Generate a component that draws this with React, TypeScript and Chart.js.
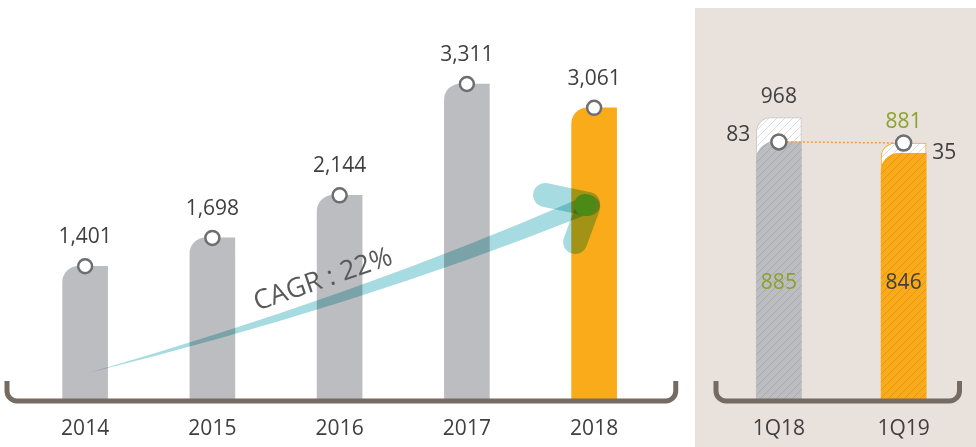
import React, { useEffect, useRef } from "react";
import { Chart, registerables } from "chart.js";

Chart.register(...registerables);

// ---------- data ----------
const years = ["2014", "2015", "2016", "2017", "2018"];
const annualValues = [1401, 1698, 2144, 3311, 3061];
const cagrLabel = "CAGR : 22%";

const quarters = ["1Q18", "1Q19"];
const quarterBase = [885, 846];
const quarterExtra = [83, 35];
const quarterComparable = [885, 881];

// ---------- styles ----------
const FONT = "'Open Sans', 'Noto Sans CJK SC', sans-serif";
const GRAY = "#bcbdc0";
const ORANGE = "#f9ab1a";
const TEXT = "#3f3f3f";
const OLIVE = "#8ca12e";
const MARKER = "#6d6e71";
const BRACKET = "#766b62";
const PANEL = "#e8e1dc";
const TEAL = "#a6dbe1";
const DOT = "#f39c4a";

const fmt = (v: number) => v.toLocaleString("en-US");

function hatch(bg: string, line: string, size = 8): any {
  const c = document.createElement("canvas");
  c.width = size;
  c.height = size;
  const ctx = c.getContext("2d")!;
  ctx.fillStyle = bg;
  ctx.fillRect(0, 0, size, size);
  ctx.strokeStyle = line;
  ctx.lineWidth = 1;
  ctx.beginPath();
  ctx.moveTo(0, size);
  ctx.lineTo(size, 0);
  ctx.moveTo(-2, 2);
  ctx.lineTo(2, -2);
  ctx.moveTo(size - 2, size + 2);
  ctx.lineTo(size + 2, size - 2);
  ctx.stroke();
  return ctx.createPattern(c, "repeat");
}

function drawBracket(chart: any, leftOff: number, rightOff: number) {
  const { ctx, chartArea } = chart;
  const L = chartArea.left + leftOff;
  const R = chartArea.right + rightOff;
  const y = chartArea.bottom + 1;
  const h = 20;
  const r = 10;
  ctx.save();
  ctx.strokeStyle = BRACKET;
  ctx.lineWidth = 5;
  ctx.beginPath();
  ctx.moveTo(L, y - h);
  ctx.arcTo(L, y, L + r, y, r);
  ctx.arcTo(R, y, R, y - h, r);
  ctx.lineTo(R, y - h);
  ctx.stroke();
  ctx.restore();
}

const annualPlugin = {
  id: "annualDecor",
  afterDatasetsDraw(chart: any) {
    const { ctx } = chart;
    const xs = chart.scales.x;
    const ys = chart.scales.y;
    const x0 = xs.getPixelForValue(0);
    const step = xs.getPixelForValue(1) - x0;
    const P = (ix: number, v: number): [number, number] => [x0 + ix * step, ys.getPixelForValue(v)];

    // CAGR arrow
    ctx.save();
    ctx.globalCompositeOperation = "multiply";
    ctx.fillStyle = TEAL;
    const s = P(0.024, 283);
    const uc = P(2.145, 1100);
    const ue = P(3.874, 2106);
    const le = P(3.914, 1928);
    const lc = P(2.122, 974);
    ctx.beginPath();
    ctx.moveTo(s[0], s[1]);
    ctx.quadraticCurveTo(uc[0], uc[1], ue[0], ue[1]);
    ctx.lineTo(le[0], le[1]);
    ctx.quadraticCurveTo(lc[0], lc[1], s[0], s[1]);
    ctx.closePath();
    ctx.fill();
    ctx.strokeStyle = TEAL;
    ctx.lineWidth = 24;
    ctx.lineCap = "round";
    let a = P(3.615, 2148);
    let b = P(3.953, 2054);
    ctx.beginPath();
    ctx.moveTo(a[0], a[1]);
    ctx.lineTo(b[0], b[1]);
    ctx.stroke();
    a = P(3.953, 2022);
    b = P(3.851, 1655);
    ctx.beginPath();
    ctx.moveTo(a[0], a[1]);
    ctx.lineTo(b[0], b[1]);
    ctx.stroke();
    ctx.restore();

    ctx.save();
    const c = P(3.929, 2043);
    ctx.fillStyle = "#4b8a17";
    ctx.beginPath();
    ctx.arc(c[0], c[1], 11, 0, Math.PI * 2);
    ctx.fill();
    ctx.restore();

    drawBracket(chart, -14.5, 18);

    // value labels
    ctx.save();
    ctx.fillStyle = TEXT;
    ctx.font = `21px ${FONT}`;
    ctx.textAlign = "center";
    ctx.textBaseline = "middle";
    const pts = chart.getDatasetMeta(0).data;
    pts.forEach((pt: any, i: number) => {
      ctx.fillText(fmt(annualValues[i]), pt.x, pt.y - 29);
    });
    ctx.restore();

    // CAGR text
    ctx.save();
    const t = P(1.87, 1257);
    ctx.translate(t[0], t[1]);
    ctx.rotate((-19 * Math.PI) / 180);
    ctx.fillStyle = "#5a5a5a";
    ctx.font = `27px ${FONT}`;
    ctx.textAlign = "center";
    ctx.textBaseline = "middle";
    ctx.fillText(cagrLabel, 0, 0);
    ctx.restore();
  },
};

const quarterTotals = quarterBase.map((b, i) => b + quarterExtra[i]);

const quarterPlugin = {
  id: "quarterDecor",
  afterDatasetsDraw(chart: any) {
    const { ctx, chartArea } = chart;
    drawBracket(chart, -0.5, -6.5);
    const baseEls = chart.getDatasetMeta(1).data;
    const totEls = chart.getDatasetMeta(2).data;
    ctx.save();
    ctx.font = `21px ${FONT}`;
    ctx.textBaseline = "middle";
    quarterBase.forEach((base, i) => {
      const be = baseEls[i];
      const te = totEls[i];
      const total = quarterTotals[i];
      ctx.textAlign = "center";
      ctx.fillStyle = total === quarterComparable[i] ? OLIVE : TEXT;
      ctx.fillText(fmt(total), te.x, te.y - 21);
      ctx.fillStyle = base === quarterComparable[i] ? OLIVE : TEXT;
      ctx.fillText(fmt(base), be.x, chartArea.bottom - 117);
      const half = be.width / 2;
      const ym = (te.y + be.y) / 2 + 5;
      ctx.fillStyle = TEXT;
      if (i === 0) {
        ctx.textAlign = "right";
        ctx.fillText(fmt(quarterExtra[i]), be.x - half - 6, ym);
      } else {
        ctx.textAlign = "left";
        ctx.fillText(fmt(quarterExtra[i]), be.x + half + 6, ym);
      }
    });
    ctx.restore();
  },
};

const xAxis = {
  grid: { display: false, drawTicks: false },
  border: { display: false },
  ticks: { color: TEXT, font: { size: 21, family: FONT }, padding: 16 },
  afterFit(scale: any) {
    scale.height = 40;
  },
};

export default function App() {
  const leftRef = useRef<HTMLCanvasElement>(null);
  const rightRef = useRef<HTMLCanvasElement>(null);

  useEffect(() => {
    Chart.defaults.font.family = FONT;
    const radiusTL = (r: number) => ({ topLeft: r, topRight: 0, bottomLeft: 0, bottomRight: 0 });

    const c1 = new Chart(leftRef.current as HTMLCanvasElement, {
      type: "bar",
      data: {
        labels: years,
        datasets: [
          {
            type: "line",
            data: annualValues,
            showLine: false,
            pointRadius: 7,
            pointBackgroundColor: "#ffffff",
            pointBorderColor: MARKER,
            pointBorderWidth: 2.5,
            order: 0,
          } as any,
          {
            type: "bar",
            data: annualValues,
            backgroundColor: annualValues.map((_, i) => (i === annualValues.length - 1 ? ORANGE : GRAY)),
            borderWidth: 0,
            borderRadius: radiusTL(16),
            borderSkipped: false,
            barThickness: 45,
            order: 1,
          } as any,
        ],
      },
      options: {
        responsive: false,
        animation: false,
        layout: { padding: { left: 21.5, right: 37.25, top: 23, bottom: 7 } },
        plugins: { legend: { display: false }, tooltip: { enabled: false } },
        scales: {
          x: xAxis as any,
          y: { display: false, min: 0, max: 3950 },
        },
      },
      plugins: [annualPlugin],
    });

    const grayHatch = hatch(GRAY, "#a9aaad");
    const orangeHatch = hatch(ORANGE, "#e4961a");
    const whiteHatch = hatch("#ffffff", "#dcdcdc");

    const c2 = new Chart(rightRef.current as HTMLCanvasElement, {
      type: "bar",
      data: {
        labels: quarters,
        datasets: [
          {
            type: "line",
            data: quarterComparable,
            borderColor: DOT,
            borderWidth: 1.5,
            borderDash: [2, 2],
            pointRadius: 7.5,
            pointBackgroundColor: "#ffffff",
            pointBorderColor: MARKER,
            pointBorderWidth: 2.5,
            order: 0,
          } as any,
          {
            type: "bar",
            data: quarterBase,
            backgroundColor: [grayHatch, orangeHatch],
            borderWidth: 0,
            borderRadius: radiusTL(18),
            borderSkipped: false,
            grouped: false,
            barThickness: 45,
            order: 1,
          } as any,
          {
            type: "bar",
            data: quarterTotals,
            backgroundColor: whiteHatch,
            borderColor: ["#c9cacc", ORANGE],
            borderWidth: { top: 1, left: 1, right: 1, bottom: 0 },
            borderRadius: radiusTL(14),
            borderSkipped: false,
            grouped: false,
            barThickness: 45,
            order: 2,
          } as any,
        ],
      },
      options: {
        responsive: false,
        animation: false,
        layout: { padding: { left: 21.5, right: 4.5, top: 15, bottom: 7 } },
        plugins: { legend: { display: false }, tooltip: { enabled: false } },
        scales: {
          x: xAxis as any,
          y: { display: false, min: 0, max: 1320 },
        },
      },
      plugins: [quarterPlugin],
    });

    return () => {
      c1.destroy();
      c2.destroy();
    };
  }, []);

  return (
    <div style={{ position: "fixed", left: 0, top: 0, width: 976, height: 447, background: "#ffffff", overflow: "hidden" }}>
      <div style={{ position: "absolute", left: 695, top: 8, width: 281, height: 439, background: PANEL }} />
      <canvas ref={leftRef} width={695} height={447} style={{ position: "absolute", left: 0, top: 0, width: 695, height: 447 }} />
      <canvas ref={rightRef} width={281} height={447} style={{ position: "absolute", left: 695, top: 0, width: 281, height: 447 }} />
    </div>
  );
}
